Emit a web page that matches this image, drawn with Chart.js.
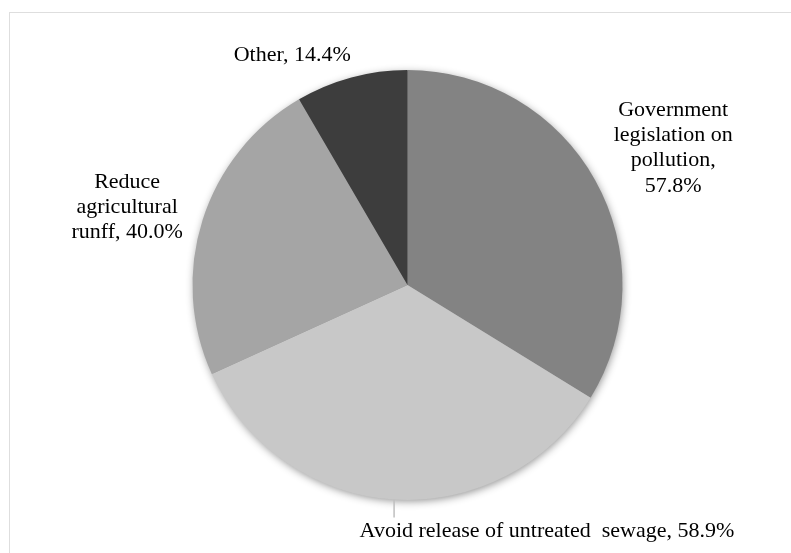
<!DOCTYPE html>
<html>
<head>
<meta charset="utf-8">
<script src="https://cdn.jsdelivr.net/npm/chart.js@4"></script>
<style>
    body { margin: 0; background: #ffffff; }
    #wrap { position: relative; width: 791px; height: 553px; }
</style>
</head>
<body>
<div id="wrap"><canvas id="myChart"></canvas></div>
<script>
// chart data
const categories = ['Government legislation on pollution', 'Avoid release of untreated  sewage', 'Reduce agricultural runff', 'Other'];
const percents = [57.8, 58.9, 40.0, 14.4];
const sliceColors = ['#838383', '#c8c8c8', '#a5a5a5', '#3d3d3d'];

// label placement: [distance from centre, angle shift in degrees, wrap width]
const labelPlace = [[299, 1.9, 126], [283, -33.1, 0], [291, -2.1, 126], [257, -11.5, 0]];
const labelFont = '22px "Liberation Serif", "Times New Roman", serif';
const lineHeight = 25.4;

const wrapText = (ctx, text, maxWidth) =>
{
    if (!maxWidth) return [text];
    const words = text.split(' ');
    const lines = [];
    let cur = '';
    words.forEach((w) => {
        const test = cur ? cur + ' ' + w : w;
        if (cur && ctx.measureText(test).width > maxWidth) {
            lines.push(cur);
            cur = w;
        } else {
            cur = test;
        }
    });
    if (cur) lines.push(cur);
    return lines;
}

const pieDeco = {
    id: 'pieDeco',
    beforeDraw(chart) {
        const ctx = chart.ctx;
        ctx.save();
        ctx.strokeStyle = '#dedede';
        ctx.lineWidth = 1;
        ctx.strokeRect(9.5, 12.5, 1000, 1000);
        ctx.restore();
    },
    beforeDatasetsDraw(chart) {
        const arc = chart.getDatasetMeta(0).data[0];
        const ctx = chart.ctx;
        ctx.save();
        ctx.shadowColor = 'rgba(0,0,0,0.45)';
        ctx.shadowBlur = 9;
        ctx.shadowOffsetX = 1;
        ctx.shadowOffsetY = 2;
        ctx.fillStyle = '#999999';
        ctx.beginPath();
        ctx.arc(arc.x, arc.y, arc.outerRadius - 1, 0, Math.PI * 2);
        ctx.fill();
        ctx.restore();
    },
    afterDatasetsDraw(chart) {
        const ctx = chart.ctx;
        const meta = chart.getDatasetMeta(0);
        ctx.save();
        ctx.font = labelFont;
        ctx.fillStyle = '#000000';
        ctx.textAlign = 'center';
        ctx.textBaseline = 'middle';
        meta.data.forEach((arc, i) => {
            const mid = (arc.startAngle + arc.endAngle) / 2;
            const place = labelPlace[i];
            const a = mid + place[1] * Math.PI / 180;
            const px = arc.x + Math.cos(a) * place[0];
            const py = arc.y + Math.sin(a) * place[0];
            const text = categories[i] + ', ' + percents[i].toFixed(1) + '%';
            const lines = wrapText(ctx, text, place[2]);
            lines.forEach((line, j) => {
                ctx.fillText(line, px, py + (j - (lines.length - 1) / 2) * lineHeight);
            });
            // leader line when the label sits away from its slice
            if (i === 1) {
                const ex = arc.x + Math.cos(mid) * arc.outerRadius;
                const ey = arc.y + Math.sin(mid) * arc.outerRadius;
                const top = py - lines.length * lineHeight / 2 - 1;
                ctx.strokeStyle = '#bfbfbf';
                ctx.lineWidth = 1.5;
                ctx.beginPath();
                ctx.moveTo(ex, ey);
                ctx.lineTo(ex, top);
                ctx.stroke();
            }
        });
        ctx.restore();
    }
};

const data = {
    labels: categories,
    datasets: [{
        data: percents,
        backgroundColor: sliceColors,
        borderWidth: 0
    }]
};

const config = {
    type: 'pie',
    data: data,
    options: {
        responsive: true,
        maintainAspectRatio: false,
        animation: false,
        layout: {
            padding: {top: 70, bottom: 53, left: 100, right: 76}
        },
        plugins: {
            legend: {display: false},
            tooltip: {enabled: false}
        }
    },
    plugins: [pieDeco]
};

var myChart = new Chart(document.getElementById('myChart'), config);
</script>
</body>
</html>
